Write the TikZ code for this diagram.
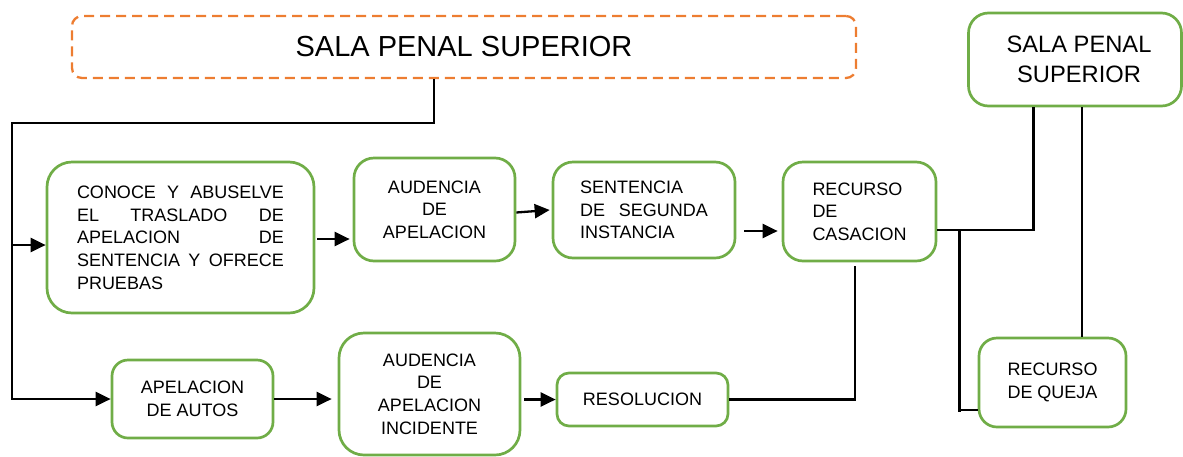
\documentclass[tikz,border=0pt]{standalone}
\usepackage{fontspec}
\setmainfont{Liberation Sans}
\usetikzlibrary{arrows.meta}
\definecolor{gbord}{HTML}{70AD47}
\definecolor{obord}{HTML}{ED7D31}
\begin{document}
\begin{tikzpicture}[x=1pt,y=-1pt,
  gbox/.style={draw=gbord, line width=2.7pt, rounded corners=#1, inner sep=0pt, align=center, font=\fontsize{18}{22.7}\selectfont},
  gbox/.default=18pt,
  conn/.style={line width=2.3pt, draw=black},
  arr/.style={conn, -{Triangle[length=15pt,width=14pt]}}]
\useasboundingbox (0,0) rectangle (1183,456);

\node[draw=obord, line width=2.3pt, dash pattern=on 10pt off 6pt, rounded corners=10pt, minimum width=784pt, minimum height=62pt, inner sep=0pt, font=\fontsize{29}{35}\selectfont] (top) at (464,47) {SALA PENAL SUPERIOR};

\node[gbox=20pt, minimum width=213pt, minimum height=93pt, font=\fontsize{23.7}{30}\selectfont] (sala) at (1075,59.5) {\hspace*{8pt}SALA PENAL\\\hspace*{8pt}SUPERIOR};

\node[gbox=25pt, minimum width=267pt, minimum height=151pt, align=left] (conoce) at (180.5,237.5) {\hbox to 207pt{CONOCE\hfil Y\hfil ABUSELVE}\\\hbox to 207pt{EL\hfil TRASLADO\hfil DE}\\\hbox to 207pt{APELACION\hfil DE}\\\hbox to 207pt{SENTENCIA\hfil Y\hfil OFRECE}\\PRUEBAS};

\node[gbox=20pt, minimum width=161pt, minimum height=103pt] (aud) at (434.5,209.5) {AUDENCIA\\DE\\APELACION};
\node[gbox=20pt, minimum width=182pt, minimum height=96pt, align=left] (sent) at (644,210) {SENTENCIA\\\hbox to 128pt{DE\hfil SEGUNDA}\\INSTANCIA};
\node[gbox=20pt, minimum width=153pt, minimum height=99pt, align=left] (rec) at (859.5,211.5) {RECURSO\\DE\\CASACION};
\node[gbox=16pt, minimum width=161pt, minimum height=78pt] (autos) at (192.5,399) {APELACION\\DE AUTOS};
\node[gbox=25pt, minimum width=181pt, minimum height=122pt] (inc) at (429.5,394) {AUDENCIA\\DE\\APELACION\\INCIDENTE};
\node[gbox=12pt, minimum width=171pt, minimum height=53pt] (res) at (642.5,399.5) {RESOLUCION};
\node[gbox=18pt, minimum width=147pt, minimum height=89pt] (queja) at (1052.5,382.5) {RECURSO\\DE QUEJA};

% left connectors
\coordinate (j1) at (12,123);
\draw[arr] ([xshift=-30pt]top.south) |- (j1) |- (autos.west);
\coordinate (j1b) at (12,245);
\draw[arr] (j1b) -- (j1b -| conoce.west);
\coordinate (c1) at ([xshift=2pt,yshift=-1.5pt]conoce.east);
\draw[arr, shorten >=3pt] (c1) -- (c1 -| aud.west);
\draw[arr] ([yshift=-3pt]aud.east) -- ([xshift=-2pt]sent.west);
\coordinate (s1) at ([xshift=8pt,yshift=-21pt]sent.east);
\draw[arr, shorten >=4pt] (s1) -- (s1 -| rec.west);
\draw[arr, shorten >=6pt] (autos.east) -- (autos.east -| inc.west);
\coordinate (i1) at (inc.east |- res.west);
\draw[arr] ([xshift=3pt]i1) -- (res.west);
\draw[conn] (res.east) -| ([xshift=-4.5pt,yshift=-4pt]rec.south);

% right connectors
\coordinate (r1) at ([yshift=-18.5pt]rec.east);
\draw[conn] (r1) -| ([xshift=-41.5pt]sala.south);
\coordinate (j2) at ([xshift=22pt]r1);
\draw[conn] (j2) -- ++(0,182);
\coordinate (q1) at ([yshift=-27.5pt]queja.west);
\draw[conn] (q1 -| j2) -- (q1);
\draw[conn] ([xshift=7pt]sala.south) -- ([xshift=29.5pt]queja.north);
\end{tikzpicture}
\end{document}
